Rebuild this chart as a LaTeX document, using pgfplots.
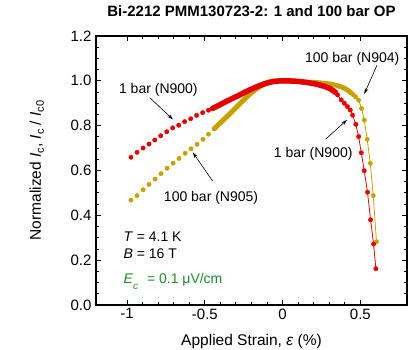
\documentclass[border=0pt]{standalone}
\usepackage{pgfplots}
\pgfplotsset{compat=1.18}
\usepackage{fontspec}
\setmainfont{Liberation Sans}
\usetikzlibrary{arrows.meta}
\definecolor{cred}{RGB}{230,0,0}
\definecolor{cgold}{RGB}{200,160,0}
\definecolor{cgreen}{RGB}{30,140,40}
\begin{document}
\begin{tikzpicture}[font=\fontsize{14pt}{16pt}\selectfont]
\begin{axis}[
  name=ax, at={(0,0)}, anchor=south west,
  scale only axis, width=311pt, height=269pt,
  xmin=-1.2, xmax=0.8, ymin=0, ymax=1.2,
  xtick={-1,-0.5,0,0.5}, xticklabels={-1,-0.5,0,0.5},
  ytick={0,0.2,0.4,0.6,0.8,1.0,1.2},
  yticklabels={0.0,0.2,0.4,0.6,0.8,1.0,1.2},
  minor x tick num=4, minor y tick num=3,
  tick align=inside, major tick length=5pt, minor tick length=3pt,
  axis line style={line width=1.6pt},
  every tick/.style={black, line width=0.9pt},
  /pgf/number format/assume math mode=true,
  tick label style={font=\fontsize{15pt}{17pt}\selectfont},
  yticklabel style={xshift=-1pt},
  title={Bi-2212 PMM130723-2: 1 and 100 bar OP},
  title style={font=\fontsize{15pt}{17pt}\selectfont\bfseries, at={(0.5,1)}, anchor=base, yshift=13pt},
  xlabel={Applied Strain, \textit{ε} (\%)},
  xlabel style={font=\fontsize{15.5pt}{17pt}\selectfont, at={(axis description cs:0.5,-0.149)}, anchor=base},
  ylabel={Normalized \textit{I}\raisebox{-3pt}{\fontsize{11pt}{12pt}\selectfont c}, \textit{I}\raisebox{-3pt}{\fontsize{11pt}{12pt}\selectfont c} / \textit{I}\raisebox{-3pt}{\fontsize{11pt}{12pt}\selectfont c0}},
  ylabel style={font=\fontsize{15.5pt}{17pt}\selectfont, at={(axis description cs:-0.19,0.5)}, anchor=center},
  clip=false,
]
% ---------- 100 bar (gold) ----------
\addplot[only marks, mark=*, mark size=2.2pt, color=cgold] coordinates {
(-0.975,0.468) (-0.936,0.488) (-0.897,0.514) (-0.859,0.538) (-0.820,0.562)
(-0.782,0.586) (-0.743,0.610) (-0.704,0.633) (-0.666,0.654) (-0.627,0.677)
(-0.589,0.697) (-0.550,0.717) (-0.512,0.739) (-0.477,0.762)
};
\addplot[cgold, line width=5pt, line cap=round, line join=round] coordinates {
(-0.44,0.786) (-0.41,0.806) (-0.38,0.826) (-0.35,0.846) (-0.32,0.866)
(-0.29,0.887) (-0.26,0.908) (-0.23,0.928) (-0.20,0.947) (-0.17,0.963)
(-0.14,0.977) (-0.11,0.989) (-0.08,0.996) (-0.05,0.999) (-0.02,1.000)
(0.01,1.000) (0.04,0.999) (0.07,0.998) (0.10,0.997) (0.13,0.995)
(0.16,0.994) (0.19,0.993) (0.22,0.992) (0.25,0.990) (0.28,0.988)
(0.31,0.985) (0.34,0.981) (0.37,0.975) (0.40,0.966) (0.42,0.958) (0.44,0.946)
};
\addplot[cgold, line width=0.8pt, mark=*, mark size=2.2pt, mark options={line width=0.4pt}] coordinates {
(0.44,0.946) (0.455,0.938) (0.470,0.928) (0.489,0.914) (0.508,0.877) (0.525,0.825)
(0.544,0.739) (0.564,0.632) (0.583,0.488) (0.604,0.282)
};
% ---------- 1 bar (red) ----------
\addplot[only marks, mark=*, mark size=2.2pt, color=cred] coordinates {
(-0.975,0.659) (-0.936,0.681) (-0.897,0.700) (-0.859,0.718) (-0.822,0.736)
(-0.784,0.755) (-0.745,0.773) (-0.707,0.790) (-0.668,0.802) (-0.630,0.818)
(-0.591,0.831) (-0.553,0.846) (-0.514,0.858) (-0.477,0.869)
};
\addplot[cred, line width=5.5pt, line cap=round, line join=round] coordinates {
(-0.45,0.877) (-0.42,0.887) (-0.39,0.898) (-0.36,0.909) (-0.33,0.919)
(-0.30,0.929) (-0.27,0.939) (-0.24,0.950) (-0.21,0.960) (-0.18,0.969)
(-0.15,0.978) (-0.12,0.986) (-0.09,0.992) (-0.06,0.997) (-0.03,0.999)
(0.00,1.000) (0.03,1.000) (0.06,0.999) (0.09,0.998) (0.12,0.996)
(0.15,0.993) (0.18,0.990) (0.21,0.986) (0.24,0.981) (0.27,0.975)
(0.30,0.967) (0.32,0.959) (0.34,0.948)
};
\addplot[cred, line width=0.8pt, mark=*, mark size=2.2pt, mark options={line width=0.4pt}] coordinates {
(0.34,0.948) (0.354,0.937) (0.377,0.915) (0.397,0.900) (0.417,0.885) (0.435,0.870)
(0.450,0.847) (0.471,0.806) (0.489,0.751) (0.506,0.679) (0.525,0.599)
(0.546,0.503) (0.566,0.380) (0.585,0.272) (0.600,0.162)
};
% ---------- annotations ----------
\node at (axis cs:-0.799,0.959) {1 bar (N900)};
\draw[-{Stealth[length=6pt,width=3.5pt]}, line width=0.6pt] (axis cs:-0.855,0.925) -- (axis cs:-0.705,0.828);
\node at (axis cs:-0.46,0.476) {100 bar (N905)};
\draw[-{Stealth[length=6pt,width=3.5pt]}, line width=0.6pt] (axis cs:-0.45,0.553) -- (axis cs:-0.578,0.681);
\node at (axis cs:0.448,1.100) {100 bar (N904)};
\draw[-{Stealth[length=6pt,width=3.5pt]}, line width=0.6pt] (axis cs:0.607,1.07) -- (axis cs:0.525,0.941);
\node at (axis cs:0.197,0.676) {1 bar (N900)};
\draw[-{Stealth[length=6pt,width=3.5pt]}, line width=0.6pt] (axis cs:0.277,0.74) -- (axis cs:0.415,0.826);
\node[anchor=base west, inner sep=0pt] at (axis cs:-1.024,0.285) {\textit{T} = 4.1 K};
\node[anchor=base west, inner sep=0pt] at (axis cs:-1.024,0.208) {\textit{B} = 16 T};
\node[anchor=base west, inner sep=0pt, text=cgreen] at (axis cs:-1.024,0.097) {\textit{E}\raisebox{-6pt}{\fontsize{10pt}{12pt}\selectfont\textit{c}}\hspace{9pt}= 0.1 μV/cm};
\end{axis}
\pgfresetboundingbox
\path[use as bounding box] (-96pt,-45pt) rectangle (312pt,305pt);
\end{tikzpicture}
\end{document}
